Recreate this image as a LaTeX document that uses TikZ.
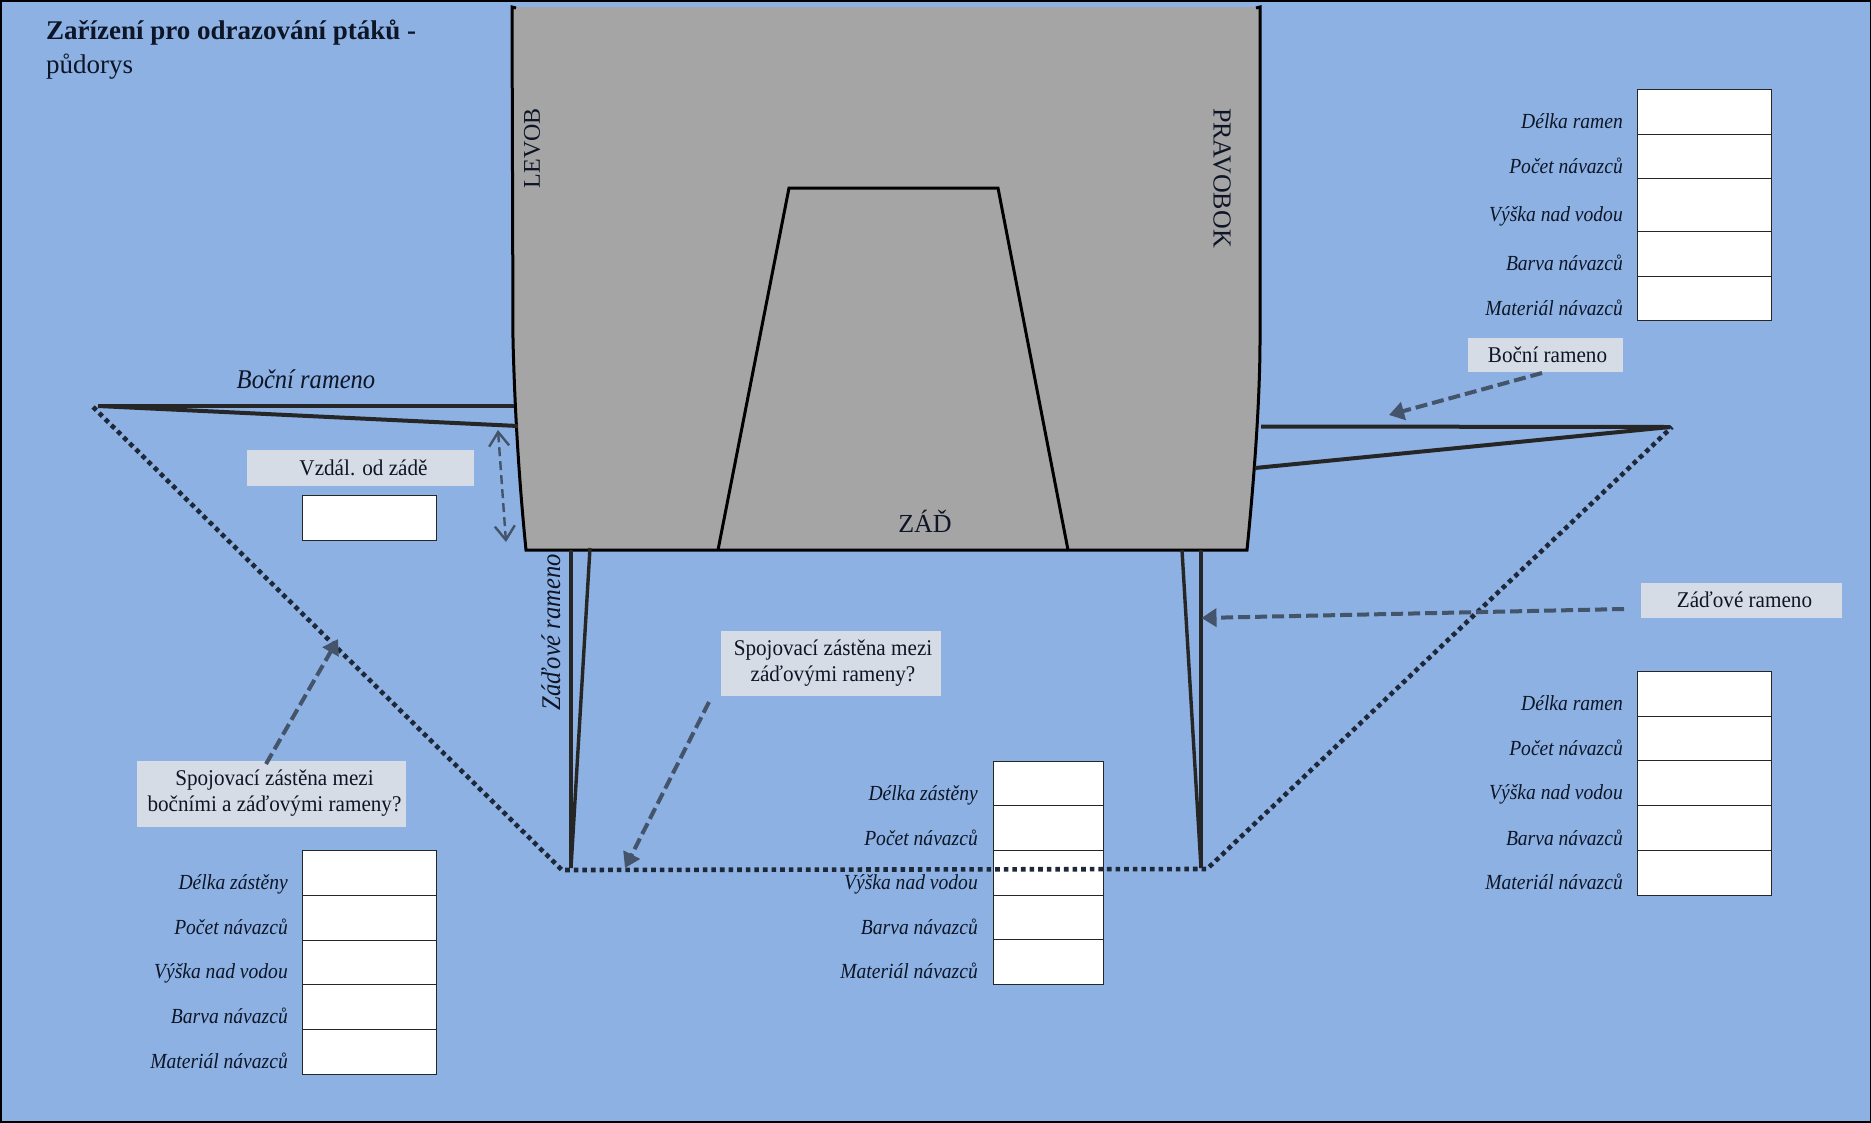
\documentclass[tikz,border=0pt]{standalone}
\usepackage{fontspec}
\setmainfont{Liberation Serif}
\newfontfamily\narrowit[FakeStretch=0.91,ItalicFont={Liberation Serif Italic},UprightFont={Liberation Serif Italic}]{Liberation Serif}
\newfontfamily\narrowrm[FakeStretch=0.94]{Liberation Serif}
\usetikzlibrary{arrows.meta}
\definecolor{seablue}{HTML}{8CB1E2}
\definecolor{hullgray}{HTML}{A5A5A5}
\definecolor{tagfill}{HTML}{D6DCE5}
\definecolor{pointer}{HTML}{44546A}
\definecolor{inkdark}{HTML}{262626}
\definecolor{dotcol}{HTML}{1E2838}
\definecolor{txtcol}{HTML}{0D1526}
\tikzset{
  hullline/.style={black,line width=3pt,line join=miter},
  arm/.style={inkdark,line width=4pt},
  sternarm/.style={inkdark,line width=3.4pt},
  dotline/.style={dotcol,line width=4.6pt,dash pattern=on 4.6pt off 4pt},
  pointerline/.style={pointer,line width=4pt,dash pattern=on 12pt off 5pt,-{Triangle[length=15pt,width=18pt]}},
  cellbox/.style={draw=inkdark,fill=white,line width=1.3pt,inner sep=0pt,anchor=north west,xshift=-1pt,yshift=1pt},
  fieldlabel/.style={font=\fontsize{21.5}{24}\narrowit,text=txtcol,anchor=east,inner sep=0pt,text depth=0pt},
  tag/.style={fill=tagfill,draw=none,inner sep=0pt,text=txtcol,font=\fontsize{22.5}{26}\narrowrm,align=center},
  hulltext/.style={text=txtcol,inner sep=0pt,font=\fontsize{26}{28}\selectfont},
  armtext/.style={text=txtcol,inner sep=0pt,font=\fontsize{27}{28}\narrowit},
}
\newcommand{\fieldrow}[8]{% name, x1, width, ytop, height, label x, label y, text
  \node[cellbox,minimum width=#3pt,minimum height=#5pt] (#1) at (#2,#4) {};
  \node[fieldlabel] (#1l) at (#6,#7) {#8};
}
\begin{document}
\begin{tikzpicture}[x=1pt,y=-1pt]
\useasboundingbox (0,0) rectangle (1871,1122);
\fill[seablue] (0,0) rectangle (1871,1122);
\draw[black,line width=3pt] (0,0) rectangle (1871,1122);

% hull
\coordinate (htl) at (512,7);
\coordinate (htr) at (1260,7);
\fill[hullgray] (htl) -- (513,340) .. controls (515,420) and (520,490) .. (526,550) -- (1247,550) .. controls (1254,480) and (1260,400) .. (1260,340) -- (htr) -- cycle;
\draw[hullline] (516,8) -- (htl) -- (513,340) .. controls (515,420) and (520,490) .. (526,550) -- (1247,550) .. controls (1254,480) and (1260,400) .. (1260,340) -- (htr) -- (1256,8);
\draw[hullline] (718,550) -- (789,188) -- (998,188) -- (1068,550);

\node[hulltext,rotate=90,font=\fontsize{24}{28}\selectfont] (levob) at (532,148) {LEVOB};
\node[hulltext,rotate=-90] (pravobok) at (1222,178) {PRAVOBOK};
\node[hulltext] (zad) at (925,521) {ZÁĎ};

% title
\node[anchor=west,inner sep=0pt,text=txtcol,font=\fontsize{27}{30}\selectfont\bfseries] (title) at (46,33) {Zařízení pro odrazování ptáků -};
\node[anchor=west,inner sep=0pt,text=txtcol,font=\fontsize{27}{30}\selectfont] (title2) at (46,67) {půdorys};

% tables
\fieldrow{ra}{1638}{133.5}{89.5}{45.5}{1623}{121}{Délka ramen}
\fieldrow{rb}{1638}{133.5}{135}{44}{1623}{166}{Počet návazců}
\fieldrow{rc}{1638}{133.5}{179}{52.5}{1623}{214}{Výška nad vodou}
\fieldrow{rd}{1638}{133.5}{231.5}{45.5}{1623}{263}{Barva návazců}
\fieldrow{re}{1638}{133.5}{277}{44}{1623}{308}{Materiál návazců}

\fieldrow{qa}{1638}{133.5}{672}{44.5}{1623}{703}{Délka ramen}
\fieldrow{qb}{1638}{133.5}{716.5}{44.5}{1623}{748}{Počet návazců}
\fieldrow{qc}{1638}{133.5}{761}{45}{1623}{792}{Výška nad vodou}
\fieldrow{qd}{1638}{133.5}{806}{45}{1623}{838}{Barva návazců}
\fieldrow{qe}{1638}{133.5}{851}{45}{1623}{882}{Materiál návazců}

\fieldrow{ma}{994}{110}{762}{44}{978}{793}{Délka zástěny}
\fieldrow{mb}{994}{110}{806}{45}{978}{838}{Počet návazců}
\fieldrow{mc}{994}{110}{851}{45}{978}{882}{Výška nad vodou}
\fieldrow{md}{994}{110}{896}{44}{978}{927}{Barva návazců}
\fieldrow{me}{994}{110}{940}{45}{978}{971}{Materiál návazců}

\fieldrow{la}{303}{133.5}{851}{45}{288}{882}{Délka zástěny}
\fieldrow{lb}{303}{133.5}{896}{44.5}{288}{927}{Počet návazců}
\fieldrow{lc}{303}{133.5}{940.5}{44.5}{288}{971}{Výška nad vodou}
\fieldrow{ld}{303}{133.5}{985}{45}{288}{1016}{Barva návazců}
\fieldrow{le}{303}{133.5}{1030}{45}{288}{1061}{Materiál návazců}

\node[cellbox,minimum width=133.5pt,minimum height=45pt] (dist) at (303,496) {};

% arms
\coordinate (ltip) at (98,406);
\coordinate (rtip) at (1670,427);
\coordinate (lroot1) at (514,406);
\coordinate (lroot2) at (518,426);
\coordinate (rroot1) at (1261,426.5);
\coordinate (rroot2) at (1255,468);
\draw[arm] (ltip) -- (lroot1);
\draw[arm] (ltip) -- (lroot2);
\draw[arm] (rroot1) -- (rtip);
\draw[arm] (rroot2) -- (rtip);

\coordinate (bl) at (571,868);
\coordinate (br) at (1201,868);
\draw[sternarm] (bl) -- (571,550);
\draw[sternarm] (bl) -- (590,548);
\draw[sternarm] (br) -- (1201,550);
\draw[sternarm] (br) -- (1182,550);

% screens
\coordinate (dl) at (93,407);
\coordinate (dbl) at (562,870);
\coordinate (dbr) at (1207,869);
\coordinate (dr) at (1672,427);
\draw[dotline] (dl) -- (dbl) -- (dbr) -- (dr);

\node[armtext] (bocni) at (306,379) {Boční rameno};
\node[armtext,rotate=90] (zadove) at (551,632) {Záďové rameno};

% tags
\node[tag,minimum width=227pt,minimum height=36pt] (tvzd) at (360.5,468) {\hspace*{6pt}Vzdál. od zádě};
\node[tag,minimum width=155pt,minimum height=34pt] (tboc) at (1545.5,355) {\hspace*{4pt}Boční rameno};
\node[tag,minimum width=200.5pt,minimum height=35pt] (tzad) at (1741.5,600) {\hspace*{6pt}Záďové rameno};
\node[tag,minimum width=220pt,minimum height=65pt] (tmid) at (831,663.5) {\hspace*{4pt}Spojovací zástěna mezi\\\hspace*{4pt}záďovými rameny?};
\node[tag,minimum width=269pt,minimum height=66pt] (tleft) at (271.5,793.5) {\hspace*{6pt}Spojovací zástěna mezi\\\hspace*{6pt}bočními a záďovými rameny?};

% pointers
\coordinate (pboc) at (1542,373);
\coordinate (pboce) at (1389,415);
\coordinate (pzad) at (1624,609);
\coordinate (pzade) at (1201.5,618);
\coordinate (pmid) at (709,702);
\coordinate (pmide) at (625,868);
\coordinate (pleft) at (266,764);
\coordinate (plefte) at (338,639);
\coordinate (pvzd) at (498,430);
\coordinate (pvzde) at (506,542);
\draw[pointerline] (pboc) -- (pboce);
\draw[pointerline] (pzad) -- (pzade);
\draw[pointerline] (pmid) -- (pmide);
\draw[pointerline] (pleft) -- (plefte);
\draw[pointer,line width=2.4pt,dash pattern=on 9pt off 5pt,{Straight Barb[length=14pt,width=20pt]}-{Straight Barb[length=14pt,width=20pt]}] (pvzd) -- (pvzde);
\end{tikzpicture}
\end{document}
